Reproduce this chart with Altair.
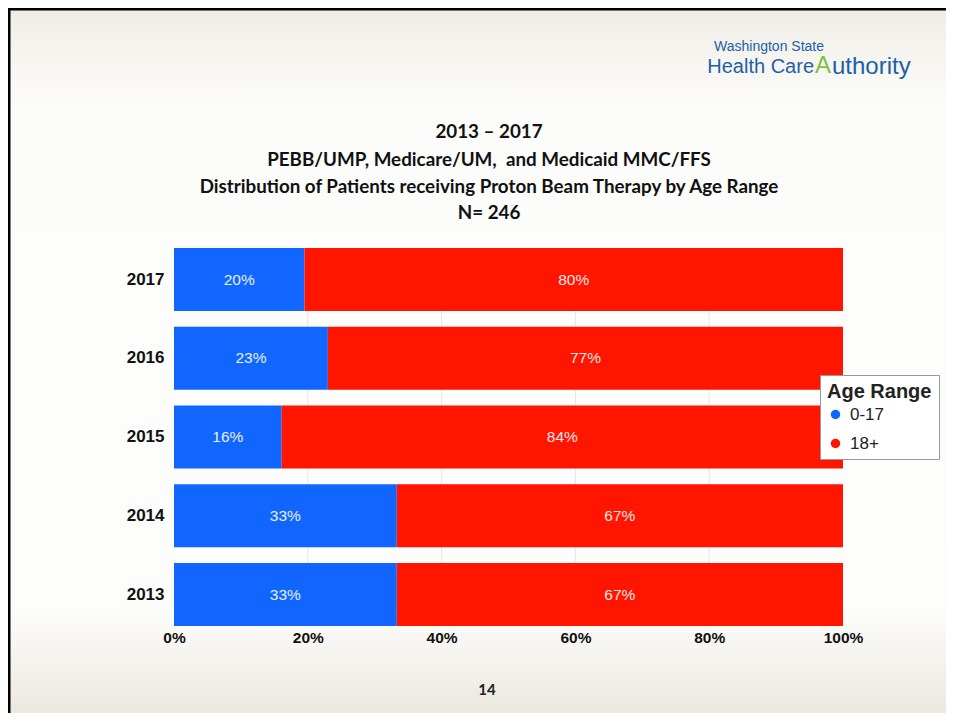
import altair as alt
import pandas as pd

# ---- data ----
years = ["2017", "2016", "2015", "2014", "2013"]
age_ranges = ["0-17", "18+"]
pct_0_17 = [19.5, 23.0, 16.1, 33.3, 33.3]
pct_18_plus = [80.5, 77.0, 83.9, 66.7, 66.7]
x_ticks = [0, 20, 40, 60, 80, 100]
title_lines = [
    "2013 \u2013 2017",
    "PEBB/UMP, Medicare/UM,\u00a0 and Medicaid MMC/FFS",
    "Distribution of Patients receiving Proton Beam Therapy by Age Range",
    "N= 246",
]
page_number = "14"
logo_small = "Washington State"
logo_big_1 = "Health Care"
logo_big_A = "A"
logo_big_2 = "uthority"

rows = []
for yr, a, b in zip(years, pct_0_17, pct_18_plus):
    rows.append(dict(year=yr, age=age_ranges[0], start=0, end=a, label=f"{a:.0f}%"))
    rows.append(dict(year=yr, age=age_ranges[1], start=a, end=a + b, label=f"{b:.0f}%"))
df = pd.DataFrame(rows)
df["mid"] = (df["start"] + df["end"]) / 2
grid_df = pd.DataFrame({"v": x_ticks[1:-1]})

FONT = "Liberation Sans, Arial, sans-serif"
TFONT = "Lato, Open Sans, sans-serif"

W, H = 669, 378
PL, PT = 166, 240
CW, CH = 938, 705

y_enc = alt.Y(
    "year:N", sort=years,
    scale=alt.Scale(paddingInner=0.2, paddingOuter=0),
    axis=alt.Axis(title=None, ticks=False, tickSize=0, domain=False, labelFont=FONT,
                  labelFontSize=17, labelFontWeight="bold", labelColor="#111",
                  labelPadding=10, zindex=1),
)
x_enc = alt.X(
    "start:Q",
    scale=alt.Scale(domain=[0, 100], nice=False),
    axis=alt.Axis(title=None, values=x_ticks, labelExpr="datum.value + '%'",
                  ticks=False, tickSize=0, domain=False, grid=False,
                  labelFont=FONT, labelFontSize=15.5, labelFontWeight="bold",
                  labelColor="#111", labelPadding=4, labelFlush=False, zindex=1),
)
color_enc = alt.Color(
    "age:N",
    scale=alt.Scale(domain=age_ranges, range=["#1166ff", "#ff1500"]),
    legend=alt.Legend(
        title="Age Range", orient="none", legendX=646, legendY=127,
        titleFont=FONT, titleFontSize=20, titleFontWeight="bold", titleColor="#222",
        labelFont=FONT, labelFontSize=17, labelColor="#222",
        symbolType="circle", symbolSize=90, symbolStrokeWidth=0,
        fillColor="white", strokeColor="#999", padding=7, rowPadding=11,
        titlePadding=4, labelOffset=6, zindex=2,
    ),
)

bg = alt.Chart(pd.DataFrame({"k": [0]})).mark_rect(
    color=alt.Gradient(
        gradient="linear", x1=0, y1=0, x2=0, y2=1,
        stops=[alt.GradientStop(color="#efede5", offset=0),
               alt.GradientStop(color="#fcfcfa", offset=0.14),
               alt.GradientStop(color="#fdfdfb", offset=0.85),
               alt.GradientStop(color="#ebe8df", offset=1)],
    )
).encode(x=alt.value(-PL), x2=alt.value(CW - PL), y=alt.value(-PT), y2=alt.value(CH - PT))

grid = alt.Chart(grid_df).mark_rule(color="#e6e6e6", strokeWidth=1).encode(
    x=alt.X("v:Q"), y=alt.value(0), y2=alt.value(H))

bars = alt.Chart(df).mark_bar().encode(y=y_enc, x=x_enc, x2="end:Q", color=color_enc)

labels = alt.Chart(df).mark_text(
    color="white", opacity=0.9, font=FONT, fontSize=15.5
).encode(y=alt.Y("year:N", sort=years), x=alt.X("mid:Q"), text="label:N")

layers = [bg, grid, bars, labels]

# title lines
title_y = [132, 160, 187, 213]
for line, ty in zip(title_lines, title_y):
    layers.append(
        alt.Chart(pd.DataFrame({"t": [line]})).mark_text(
            font=TFONT, fontSize=18.8, fontWeight="bold", color="#111", align="center",
            baseline="middle",
        ).encode(text="t:N", x=alt.value(489 - 174), y=alt.value(ty - 248))
    )

# page number
layers.append(
    alt.Chart(pd.DataFrame({"t": [page_number]})).mark_text(
        font=TFONT, fontSize=15, fontWeight="bold", color="#222", baseline="middle"
    ).encode(text="t:N", x=alt.value(487 - 174), y=alt.value(690 - 248))
)

# logo text
LOGO_BLUE = "#1f5fa8"
layers.append(
    alt.Chart(pd.DataFrame({"t": [logo_small]})).mark_text(
        font=FONT, fontSize=14, color=LOGO_BLUE, align="left", baseline="middle"
    ).encode(text="t:N", x=alt.value(714 - 174), y=alt.value(47 - 248))
)
layers.append(
    alt.Chart(pd.DataFrame({"t": [logo_big_1]})).mark_text(
        font=FONT, fontSize=20, color=LOGO_BLUE, align="right", baseline="middle"
    ).encode(text="t:N", x=alt.value(814 - 174), y=alt.value(67 - 248))
)
layers.append(
    alt.Chart(pd.DataFrame({"t": [logo_big_A]})).mark_text(
        font=FONT, fontSize=24, color="#7cc242", align="left", baseline="middle"
    ).encode(text="t:N", x=alt.value(815 - 174), y=alt.value(66 - 248))
)
layers.append(
    alt.Chart(pd.DataFrame({"t": [logo_big_2]})).mark_text(
        font=FONT, fontSize=24, color=LOGO_BLUE, align="left", baseline="middle"
    ).encode(text="t:N", x=alt.value(832 - 174), y=alt.value(67 - 248))
)

# slide border (top and left)
layers.append(
    alt.Chart(pd.DataFrame({"k": [0]})).mark_rule(color="black", strokeWidth=3).encode(
        x=alt.value(-PL), x2=alt.value(CW - PL), y=alt.value(-PT + 1))
)
layers.append(
    alt.Chart(pd.DataFrame({"k": [0]})).mark_rule(color="black", strokeWidth=3).encode(
        x=alt.value(-PL + 1), y=alt.value(-PT), y2=alt.value(CH - PT))
)

chart = alt.layer(*layers).properties(
    width=W, height=H,
    autosize=alt.AutoSizeParams(type="none"),
    padding={"left": PL, "top": PT, "right": CW - PL - W, "bottom": CH - PT - H},
    background="#fdfdfb",
).configure_view(stroke=None)

chart.save("out.html", embed_options={"renderer": "svg", "actions": False})
